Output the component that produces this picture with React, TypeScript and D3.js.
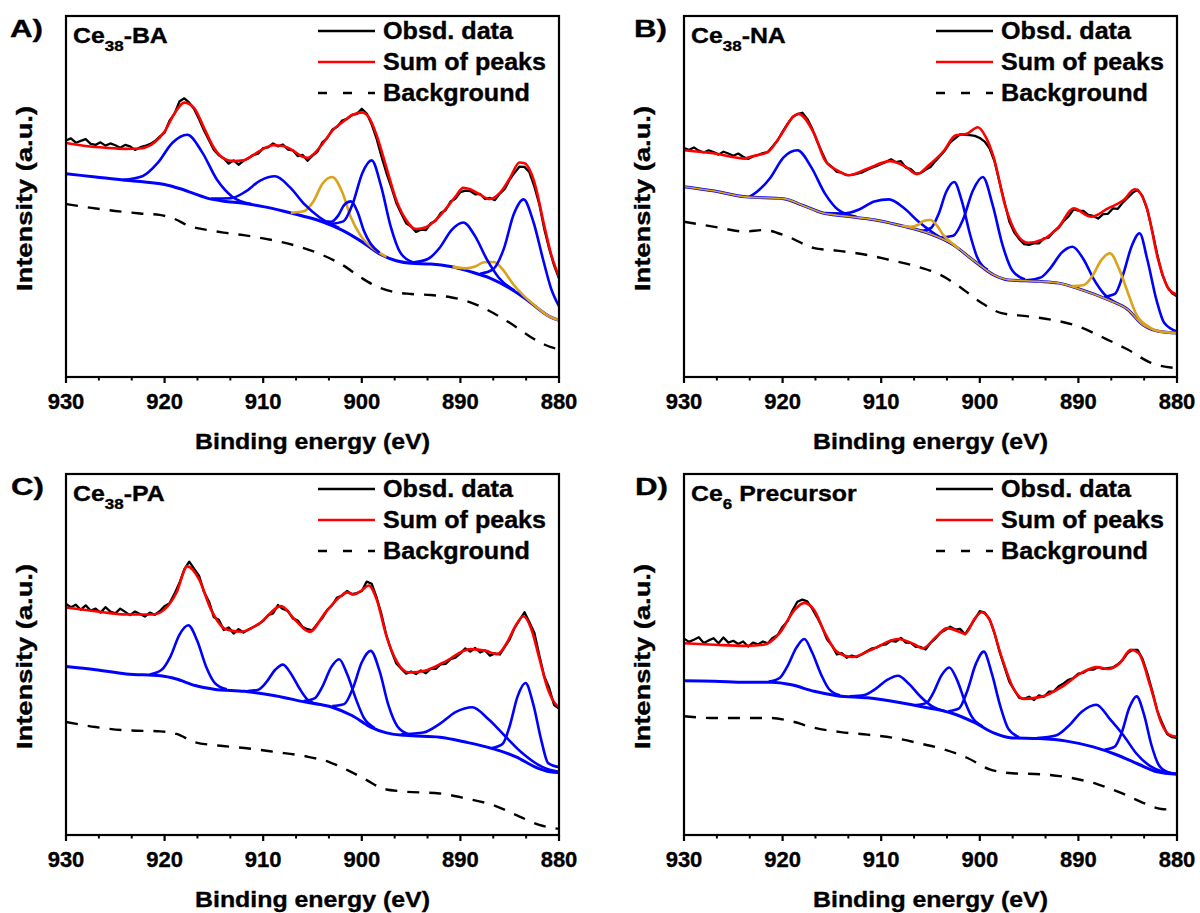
import * as d3 from "d3";

type Pt = [number, number];

// observed spectra are sampled every 0.5 eV from 930 down to 880
const OBS_EV = d3.range(0, 101).map(i => 930 - i * 0.5);

const A_OBS = [
  65.5, 66.1, 64.9, 65.4, 65.9, 64.6, 64.3, 65.0, 64.1, 64.7, 64.2, 63.5, 64.3, 63.9, 62.9, 63.6, 64.0, 64.5, 65.3, 66.6,
  67.7, 71.0, 72.9, 76.3, 77.2, 76.0, 74.2, 71.4, 68.3, 65.6, 62.9, 61.4, 60.6, 59.1, 60.0, 58.8, 59.9, 60.6, 61.5, 61.9,
  63.4, 63.6, 64.7, 63.9, 64.4, 63.0, 62.8, 61.2, 61.5, 59.9, 61.3, 62.4, 65.0, 66.2, 68.5, 69.3, 71.0, 71.5, 72.6, 72.9,
  74.3, 73.0, 70.0, 66.0, 61.0, 56.5, 52.5, 48.2, 45.3, 42.6, 41.7, 40.2, 40.8, 40.7, 42.6, 43.3, 45.4, 46.2, 48.6, 49.4,
  51.2, 51.6, 51.5, 50.6, 50.7, 49.3, 49.6, 49.0, 50.8, 52.1, 54.7, 56.6, 58.3, 58.2, 56.7, 52.8, 47.9, 41.1, 35.6, 30.9,
  27.3,
];
const A_SUM: Pt[] = [
  [930, 64.8], [928, 64.0], [926, 63.5], [924, 63.2], [922.5, 63.3], [921, 65.0], [920, 68.0], [919, 73.0], [918, 76.0],
  [917, 74.5], [916, 69.0], [915, 63.5], [914, 60.5], [913, 59.8], [912, 60.0], [911, 61.5], [910, 63.2], [909, 64.2],
  [908, 64.0], [907, 62.8], [906, 61.0], [905.5, 60.7], [905, 61.5], [904, 64.5], [903, 68.2], [902, 70.5], [901, 72.5],
  [900, 73.3], [899.3, 72.0], [898.5, 67.0], [897.5, 58.0], [896.5, 49.0], [895.5, 43.5], [894.5, 41.0], [893.5, 41.5],
  [892.5, 43.5], [891.5, 46.5], [890.5, 50.0], [889.7, 52.4], [889, 52.0], [888, 50.5], [887, 49.3], [886, 51.0],
  [885, 55.0], [884, 59.4], [883.5, 59.2], [882.5, 54.0], [881.5, 42.0], [880.8, 34.0], [880, 27.8],
];
const A_BG: Pt[] = [
  [930, 47.9], [925, 46.0], [922.5, 45.3], [920.5, 44.9], [919, 43.8], [917.5, 41.8], [916, 40.9], [914, 40.0], [912, 39.3],
  [910, 38.4], [908, 37.3], [906, 35.8], [904, 33.8], [902, 31.1], [900, 27.4], [898.5, 25.1], [897, 23.7], [895, 23.0],
  [893, 22.7], [891, 22.1], [889, 20.7], [887, 18.2], [885, 15.0], [883, 11.3], [881.5, 9.0], [880, 7.6],
];
const A_BASE: Pt[] = [
  [930, 56.3], [927, 55.4], [924, 54.5], [922, 54.0], [920, 53.3], [918.5, 52.2], [917, 50.8], [915.5, 49.4], [914, 48.7],
  [912, 48.1], [910, 47.2], [908, 46.0], [906, 44.6], [904, 43.0], [902, 40.7], [900, 37.5], [898, 33.8], [896.5, 32.2],
  [895, 31.5], [893, 31.3], [891, 30.6], [889, 29.2], [887, 27.4], [885, 24.6], [883.5, 21.9], [882, 18.7], [881, 16.8],
  [880, 15.7],
];
const A_BLUE: Pt[][] = [
  [[924.2, 54.6], [922.2, 55.7], [920.7, 59.3], [919.2, 64.9], [917.7, 67.1], [916.2, 62.3], [914.7, 54.7], [913.2, 50.1], [911.2, 47.9]],
  [[915.3, 49.4], [913.3, 49.5], [911.8, 51.35], [910.3, 54.4], [908.8, 55.6], [907.3, 52.6], [905.8, 47.8], [904.3, 44.25], [902.3, 41.3]],
  [[904.0, 43.1], [903.1, 43.0], [902.4, 44.7], [901.8, 47.6], [901.1, 48.65], [900.4, 45.5], [899.8, 40.6], [899.1, 36.9], [898.2, 34.4]],
  [[903.16, 42.4], [901.88, 43.1], [900.92, 48.0], [899.96, 56.4], [899.0, 60.0], [898.04, 52.8], [897.08, 41.8], [896.12, 34.6], [894.84, 31.8]],
  [[894.9, 31.7], [893.3, 32.7], [892.1, 35.8], [890.9, 40.7], [889.7, 42.8], [888.5, 38.95], [887.3, 32.5], [886.1, 27.5], [884.5, 23.9]],
  [[888.0, 28.6], [886.7, 29.8], [885.6, 35.5], [884.6, 45.0], [883.6, 49.2], [882.6, 43.0], [881.6, 32.4], [880.8, 24.5], [880, 19.6]],
];
const A_ORANGE: Pt[][] = [
  [[907.2, 45.5], [905.9, 45.9], [904.9, 48.7], [904.0, 53.5], [903.0, 55.4], [902.0, 51.3], [901.1, 44.2], [900.1, 39.1], [898.8, 35.5], [897.5, 33.3]],
  [[890.8, 30.5], [889.5, 30.1], [888.5, 30.6], [887.6, 31.8], [886.6, 31.85], [885.6, 29.4], [884.7, 25.9], [883.7, 22.8], [882.4, 19.7], [881, 16.8], [880, 15.7]],
];

const B_OBS = [
  63.4, 62.9, 63.6, 62.7, 62.2, 62.8, 62.3, 61.6, 62.4, 61.9, 61.3, 61.9, 61.0, 60.4, 61.1, 61.5, 62.0, 62.3, 63.9, 65.5,
  68.0, 70.1, 72.0, 72.8, 73.2, 71.5, 68.8, 65.3, 62.2, 59.3, 58.2, 56.8, 56.6, 55.9, 56.0, 56.3, 56.6, 57.3, 57.9, 58.4,
  59.0, 59.6, 60.3, 59.5, 59.8, 58.0, 57.6, 56.3, 56.5, 57.4, 58.2, 59.8, 61.3, 62.9, 65.0, 66.1, 67.2, 67.1, 67.0, 66.8,
  66.2, 65.2, 63.3, 59.7, 54.0, 48.5, 43.0, 40.0, 38.2, 36.8, 36.6, 37.1, 37.0, 38.4, 38.6, 40.3, 41.3, 43.2, 44.5, 46.4,
  46.1, 46.0, 44.9, 44.6, 43.9, 45.1, 45.2, 46.7, 46.6, 48.3, 49.7, 51.0, 51.9, 50.1, 46.2, 40.4, 33.9, 28.4, 25.1, 23.2,
  22.4,
];
const B_SUM: Pt[] = [
  [930, 62.8], [926.9, 61.9], [923.8, 60.5], [923.4, 60.9], [921.5, 62.3], [920.3, 66.5], [918.8, 72.4], [918.4, 72.9],
  [916.8, 67.4], [915.7, 60.0], [914.5, 57.3], [913.3, 55.9], [911.4, 57.7], [909.1, 59.8], [907.5, 58.2], [906.4, 56.2],
  [905.2, 58.6], [903.6, 62.8], [902.5, 66.9], [901.3, 67.4], [900.2, 69.2], [899.4, 66.5], [898.6, 60.9], [897.4, 47.2],
  [896.3, 39.8], [895.1, 37.2], [893.6, 38.1], [892.0, 41.6], [890.5, 46.7], [888.7, 44.4], [887.0, 46.7], [885.4, 49.0],
  [884.3, 52.0], [883.1, 47.2], [881.9, 32.4], [880.8, 24.2], [880, 22.8],
];
const B_BG: Pt[] = [
  [930, 43.0], [926.9, 41.6], [923.8, 40.3], [921.9, 40.7], [919.5, 38.9], [916.8, 35.7], [914.5, 35.0], [911.4, 33.8],
  [909.1, 32.4], [906.4, 30.6], [904.0, 28.3], [902.1, 25.1], [899.8, 20.5], [897.8, 17.7], [895.1, 16.8], [892.8, 15.9],
  [890.1, 14.1], [887.4, 10.8], [885.0, 7.6], [882.7, 4.0], [880, 2.4],
];
const B_BASE: Pt[] = [
  [930, 52.7], [926.9, 51.5], [923.8, 49.9], [919.9, 49.4], [918.0, 47.6], [916.0, 45.5], [913.7, 44.6], [910.6, 43.5],
  [907.5, 41.6], [905.2, 39.8], [902.9, 37.0], [900.5, 32.0], [898.6, 28.3], [897.1, 26.9], [894.0, 26.5], [892.0, 26.0],
  [889.7, 24.2], [887.0, 21.4], [885.0, 18.7], [883.5, 14.5], [881.9, 12.7], [880, 12.2],
];
const B_BLUE: Pt[][] = [
  [[923.4, 49.85], [922.6, 51.3], [921.3, 55.0], [919.9, 60.85], [918.5, 62.8], [917.1, 58.15], [915.7, 50.8], [914.4, 46.4], [912.5, 44.4]],
  [[915.7, 45.4], [913.7, 45.3], [912.2, 46.45], [910.7, 48.6], [909.2, 49.2], [907.7, 46.8], [906.2, 43.0], [904.7, 39.9], [902.7, 36.7]],
  [[906.0, 40.4], [904.9, 41.4], [904.2, 45.0], [903.4, 51.3], [902.6, 54.0], [901.8, 48.5], [901.0, 39.6], [900.3, 33.4], [899.2, 29.7]],
  [[904.0, 38.6], [902.7, 39.1], [901.7, 43.6], [900.7, 51.65], [899.7, 55.4], [898.7, 47.7], [897.7, 36.6], [896.7, 29.5], [895.4, 27.0]],
  [[895.3, 26.8], [893.8, 27.6], [892.8, 30.3], [891.7, 34.45], [890.6, 36.1], [889.5, 32.7], [888.4, 26.9], [887.4, 23.0], [885.9, 20.1]],
  [[887.4, 22.2], [886.3, 23.0], [885.5, 28.1], [884.6, 36.2], [883.8, 39.8], [883.0, 32.4], [882.1, 21.5], [881.3, 15.0], [880, 12.6]],
];
const B_ORANGE: Pt[][] = [
  [[907.9, 41.9], [907.0, 41.6], [906.3, 42.1], [905.7, 43.2], [905.0, 43.5], [904.3, 41.8], [903.7, 39.3], [903.0, 37.5], [902.1, 35.45]],
  [[890.7, 25.2], [889.5, 25.4], [888.6, 27.9], [887.7, 32.3], [886.8, 34.3], [885.9, 30.1], [885.0, 23.5], [884.1, 17.2], [882.9, 14.0], [881.9, 12.7], [880, 12.2]],
];

const C_OBS = [
  64.0, 63.1, 63.8, 62.4, 63.6, 62.2, 62.7, 61.6, 63.1, 61.9, 61.4, 62.7, 61.8, 60.9, 61.9, 61.2, 60.5, 61.6, 61.0, 62.0,
  63.4, 64.2, 66.8, 69.8, 73.6, 75.7, 73.7, 71.8, 67.3, 64.7, 60.3, 59.6, 56.8, 57.5, 55.8, 57.0, 56.1, 56.9, 57.6, 58.3,
  59.3, 60.9, 61.4, 63.7, 62.6, 62.1, 60.0, 59.4, 57.6, 57.0, 56.7, 58.5, 60.1, 62.4, 63.7, 65.8, 66.3, 67.6, 66.7, 67.0,
  67.6, 70.2, 69.6, 65.8, 61.1, 55.2, 51.0, 47.5, 46.1, 44.7, 45.3, 44.6, 45.6, 44.8, 46.1, 46.0, 47.3, 47.4, 48.7, 49.1,
  50.3, 51.7, 50.8, 51.8, 50.6, 51.1, 49.7, 50.3, 50.0, 52.1, 54.2, 57.4, 59.6, 61.7, 58.9, 56.0, 49.8, 44.0, 40.8, 36.0,
  35.0,
];
const C_SUM: Pt[] = [
  [930, 63.0], [927, 62.0], [923.9, 61.1], [921.2, 61.1], [920.0, 62.5], [918.8, 67.1], [917.7, 74.4], [916.5, 70.8],
  [915.3, 62.5], [913.8, 57.0], [912.2, 56.3], [910.3, 58.8], [908.2, 63.4], [906.8, 59.7], [905.3, 56.3], [903.7, 61.6],
  [902.2, 66.0], [901.5, 67.2], [900.8, 66.6], [900.0, 67.8], [899.3, 69.1], [898.5, 65.3], [897.5, 55.1], [896.4, 47.8],
  [895.2, 45.0], [893.6, 45.5], [891.7, 47.8], [889.0, 51.5], [887.4, 51.0], [886.3, 50.1], [885.1, 54.2], [884.5, 57.5],
  [883.6, 60.6], [882.8, 57.0], [882.0, 49.0], [881.2, 41.0], [880.5, 36.8], [880, 35.4],
];
const C_BG: Pt[] = [
  [930, 31.3], [927, 29.9], [923.9, 29.0], [920.4, 28.7], [918.8, 28.0], [916.9, 25.7], [914.6, 24.8], [911.9, 24.1],
  [908.8, 23.0], [905.7, 21.8], [903.3, 20.2], [901.4, 17.9], [899.5, 15.2], [897.9, 12.9], [896.0, 12.1], [892.1, 11.5],
  [889.4, 10.1], [886.7, 8.3], [884.0, 5.1], [882.0, 2.8], [880, 1.7],
];
const C_BASE: Pt[] = [
  [930, 46.7], [927, 45.8], [923.9, 44.6], [920.4, 44.1], [918.8, 43.2], [916.9, 41.4], [915.0, 40.4], [911.9, 39.8],
  [908.8, 38.6], [905.7, 36.8], [903.0, 35.4], [901.0, 33.1], [899.1, 29.9], [897.5, 28.3], [895.6, 27.6], [892.1, 27.1],
  [889.4, 25.7], [886.7, 23.9], [884.3, 21.6], [882.4, 18.8], [880.9, 17.5], [880, 17.3],
];
const C_BLUE: Pt[][] = [
  [[921.5, 44.45], [920.3, 45.75], [919.4, 49.5], [918.5, 55.45], [917.6, 58.1], [916.7, 53.85], [915.8, 46.7], [914.9, 42.1], [913.7, 40.35]],
  [[911.6, 39.85], [910.5, 40.25], [909.7, 42.25], [908.8, 45.7], [908.0, 47.2], [907.2, 44.75], [906.3, 40.5], [905.5, 37.5], [904.4, 36.2]],
  [[905.9, 37.1], [904.8, 37.85], [904.0, 41.1], [903.1, 46.5], [902.3, 48.7], [901.5, 44.65], [900.6, 37.7], [899.8, 32.5], [898.7, 29.7]],
  [[903.0, 35.7], [901.8, 36.25], [900.9, 40.7], [900.0, 47.85], [899.1, 51.0], [898.2, 45.45], [897.3, 35.95], [896.4, 30.15], [895.2, 27.85]],
  [[896.0, 27.9], [893.75, 28.4], [892.1, 30.8], [890.45, 34.1], [888.8, 35.4], [887.15, 32.05], [885.5, 27.5], [883.85, 23.0], [881.65, 18.8], [880, 17.5]],
  [[886.8, 24.1], [885.7, 25.3], [885.0, 30.2], [884.2, 38.4], [883.4, 42.1], [882.6, 36.1], [881.8, 26.3], [881.1, 19.9], [880, 18.8]],
];
const C_ORANGE: Pt[][] = [];

const D_OBS = [
  54.4, 53.5, 54.1, 54.8, 53.2, 53.9, 54.5, 53.1, 54.7, 53.3, 53.8, 52.9, 53.6, 52.2, 53.3, 52.8, 53.6, 53.1, 54.6, 55.4,
  57.7, 59.2, 62.2, 64.6, 65.2, 64.7, 62.7, 60.3, 57.6, 54.2, 52.5, 50.0, 50.4, 49.1, 49.7, 49.3, 50.0, 50.8, 51.6, 51.9,
  52.6, 52.8, 53.8, 53.6, 54.6, 53.3, 53.2, 52.1, 52.1, 51.4, 53.2, 54.4, 56.0, 56.8, 57.7, 56.9, 57.1, 55.6, 57.7, 59.8,
  62.0, 61.6, 59.7, 55.8, 50.8, 46.6, 42.4, 40.1, 38.0, 37.7, 38.3, 37.4, 38.7, 38.3, 39.7, 39.8, 41.2, 42.0, 43.0, 43.5,
  44.7, 44.9, 45.8, 45.8, 46.5, 46.0, 46.2, 46.4, 47.3, 48.5, 50.4, 51.3, 51.3, 48.8, 44.7, 39.8, 34.4, 31.0, 28.0, 27.1,
  26.9,
];
const D_SUM: Pt[] = [
  [930, 53.1], [926.9, 52.7], [923.8, 52.4], [921.9, 52.7], [920.3, 55.9], [918.8, 62.3], [917.8, 64.3], [916.8, 62.3],
  [915.7, 55.9], [914.5, 50.8], [912.9, 49.3], [911.0, 51.3], [908.3, 54.3], [906.7, 52.9], [905.8, 51.7], [904.4, 55.0],
  [903.3, 57.3], [902.1, 56.3], [901.5, 55.7], [900.5, 60.0], [899.8, 61.7], [899.0, 59.6], [897.8, 49.4], [896.7, 41.2],
  [895.5, 37.7], [893.6, 38.4], [891.6, 41.2], [889.7, 44.9], [888.1, 46.5], [887.0, 46.0], [885.8, 47.6], [884.7, 51.3],
  [883.9, 50.4], [882.7, 41.2], [881.6, 31.1], [880.8, 27.8], [880, 27.2],
];
const D_BG: Pt[] = [
  [930, 32.9], [926.9, 32.4], [923.8, 32.4], [921.1, 32.4], [919.1, 31.5], [916.8, 29.7], [914.1, 28.5], [911.4, 27.8],
  [908.7, 26.9], [906.0, 25.3], [903.6, 23.7], [901.3, 21.4], [899.0, 18.2], [896.7, 17.1], [893.6, 16.8], [890.9, 15.9],
  [888.1, 14.1], [885.8, 11.8], [883.5, 9.0], [881.6, 7.2], [880, 7.0],
];
const D_BASE: Pt[] = [
  [930, 42.7], [926.9, 42.6], [923.8, 42.3], [921.1, 42.3], [919.1, 41.6], [916.8, 39.8], [914.5, 38.6], [911.4, 38.0],
  [908.3, 36.8], [905.2, 35.2], [902.9, 33.8], [900.5, 31.1], [898.6, 28.3], [896.7, 26.9], [894.0, 26.7], [891.2, 26.0],
  [888.5, 24.4], [886.2, 22.3], [883.9, 19.6], [882.0, 17.5], [880, 16.8],
];
const D_BLUE: Pt[][] = [
  [[921.4, 42.5], [920.3, 43.5], [919.5, 46.8], [918.6, 51.9], [917.8, 54.3], [917.0, 50.55], [916.1, 44.5], [915.3, 40.45], [914.2, 38.7]],
  [[913.2, 38.45], [911.7, 38.8], [910.6, 40.4], [909.4, 42.95], [908.3, 44.1], [907.2, 41.9], [906.0, 38.3], [904.9, 35.75], [903.4, 34.2]],
  [[906.5, 36.0], [905.4, 36.6], [904.7, 39.45], [903.9, 44.15], [903.1, 46.4], [902.3, 42.9], [901.5, 36.9], [900.8, 32.7], [899.7, 30.1]],
  [[903.2, 34.3], [902.1, 35.1], [901.3, 39.7], [900.4, 47.4], [899.6, 50.8], [898.8, 44.9], [897.9, 35.5], [897.1, 29.4], [896.0, 27.1]],
  [[894.2, 26.85], [892.3, 27.55], [891.0, 30.2], [889.6, 34.3], [888.2, 36.1], [886.8, 32.1], [885.4, 27.5], [884.1, 22.5], [882.2, 18.3], [880, 16.9]],
  [[887.35, 23.6], [886.35, 24.4], [885.6, 28.4], [884.85, 35.15], [884.1, 38.4], [883.35, 33.4], [882.6, 25.0], [881.85, 19.4], [880.85, 17.3], [880, 16.9]],
];
const D_ORANGE: Pt[][] = [];

const LEGEND = ["Obsd. data", "Sum of peaks", "Background"];
const LEGEND_LEN = [130, 163, 147];
const MAJOR_TICKS = [930, 920, 910, 900, 890, 880];

const W = 493;
const H = 361;
const FONT = "'Liberation Sans', Arial, Helvetica, sans-serif";
const BLUE = "#0000ff";
const ORANGE = "#dba21c";
const RED = "#ff0000";

const PANELS = [
  { letter: "A)", sub: "38", rest: "-BA", obs: A_OBS, sum: A_SUM, bg: A_BG, base: A_BASE, blue: A_BLUE, orange: A_ORANGE, x0: 66, y0: 16, lx: 10, orangeTop: false },
  { letter: "B)", sub: "38", rest: "-NA", obs: B_OBS, sum: B_SUM, bg: B_BG, base: B_BASE, blue: B_BLUE, orange: B_ORANGE, x0: 684, y0: 16, lx: 634, orangeTop: true },
  { letter: "C)", sub: "38", rest: "-PA", obs: C_OBS, sum: C_SUM, bg: C_BG, base: C_BASE, blue: C_BLUE, orange: C_ORANGE, x0: 66, y0: 474, lx: 11, orangeTop: false },
  { letter: "D)", sub: "6", rest: " Precursor", obs: D_OBS, sum: D_SUM, bg: D_BG, base: D_BASE, blue: D_BLUE, orange: D_ORANGE, x0: 684, y0: 474, lx: 635, orangeTop: false },
];

function Panel({ p }) {
  const x1 = p.x0 + W;
  const y1 = p.y0 + H;
  const x = d3.scaleLinear().domain([930, 880]).range([p.x0, x1]);
  const y = d3.scaleLinear().domain([0, 100]).range([y1, p.y0]);
  const smooth = d3.line<Pt>().x(d => x(d[0])).y(d => y(d[1])).curve(d3.curveMonotoneX);
  const raw = d3.line<number>().x((_, i) => x(OBS_EV[i])).y(d => y(d));
  const minor = d3.range(0, 16).map(i => 930 - (i * 10) / 3).filter((_, i) => i % 3 !== 0);

  const orangePaths = p.orange.map((pk, i) => (
    <path key={"o" + i} d={smooth(pk)} fill="none" stroke={ORANGE} strokeWidth={2.6} />
  ));
  const bluePaths = p.blue.map((pk, i) => (
    <path key={"b" + i} d={smooth(pk)} fill="none" stroke={BLUE} strokeWidth={2.6} />
  ));

  return (
    <g fontFamily={FONT} fontWeight="bold">
      <path d={smooth(p.bg)} fill="none" stroke="#000" strokeWidth={2.4} strokeDasharray="12 10" />
      <path d={smooth(p.base)} fill="none" stroke={BLUE} strokeWidth={3} />
      {p.orangeTop ? bluePaths : orangePaths}
      {p.orangeTop ? orangePaths : bluePaths}
      {p.orangeTop && <path d={smooth(p.base)} fill="none" stroke={ORANGE} strokeWidth={1.6} />}
      <path d={raw(p.obs)} fill="none" stroke="#000" strokeWidth={2.3} strokeLinejoin="round" />
      <path d={smooth(p.sum)} fill="none" stroke={RED} strokeWidth={2.6} />

      {/* legend */}
      <g stroke="#000" strokeWidth={0.35}>
        {LEGEND.map((t, i) => (
          <g key={t}>
            <line
              x1={x1 - 241} x2={x1 - 184}
              y1={p.y0 + 15 + i * 31} y2={p.y0 + 15 + i * 31}
              stroke={i === 1 ? RED : "#000"}
              strokeWidth={i === 1 ? 2.6 : 2.4}
              strokeDasharray={i === 2 ? "9 16" : undefined}
            />
            <text x={x1 - 176} y={p.y0 + 23 + i * 31} fontSize={23}
              textLength={LEGEND_LEN[i]} lengthAdjust="spacingAndGlyphs">{t}</text>
          </g>
        ))}

        {/* sample name */}
        <text transform={`translate(${p.x0 + 7},${p.y0 + 27}) scale(1.13,1)`} fontSize={22}>
          <tspan>Ce</tspan>
          <tspan fontSize={15} dy={8}>{p.sub}</tspan>
          <tspan dy={-8}>{p.rest}</tspan>
        </text>
        <text x={p.lx} y={p.y0 + 21} fontSize={24} textLength={33} lengthAdjust="spacingAndGlyphs">{p.letter}</text>
      </g>

      {/* frame and ticks */}
      <rect x={p.x0} y={p.y0} width={W} height={H} fill="none" stroke="#000" strokeWidth={2.2} />
      {MAJOR_TICKS.map(t => (
        <g key={t}>
          <line x1={x(t)} x2={x(t)} y1={y1} y2={y1 + 6} stroke="#000" strokeWidth={2.2} />
          <text x={x(t)} y={y1 + 32} fontSize={22} textAnchor="middle" stroke="#000" strokeWidth={0.35}>{t}</text>
        </g>
      ))}
      {minor.map(t => (
        <line key={t} x1={x(t)} x2={x(t)} y1={y1} y2={y1 + 3.5} stroke="#000" strokeWidth={2} />
      ))}
      <g stroke="#000" strokeWidth={0.35}>
        <text x={(p.x0 + x1) / 2} y={y1 + 72} fontSize={22} textAnchor="middle"
          textLength={235} lengthAdjust="spacingAndGlyphs">Binding energy (eV)</text>
        <text transform={`translate(${p.x0 - 34},${p.y0 + H / 2 + 2}) rotate(-90)`} fontSize={22} textAnchor="middle"
          textLength={185} lengthAdjust="spacingAndGlyphs">Intensity (a.u.)</text>
      </g>
    </g>
  );
}

export default function App() {
  return (
    <svg width={1200} height={913} viewBox="0 0 1200 913"
      style={{ position: "absolute", left: 0, top: 0, background: "#fff" }}>
      <rect width={1200} height={913} fill="#fff" />
      {PANELS.map(p => <Panel key={p.letter} p={p} />)}
    </svg>
  );
}
